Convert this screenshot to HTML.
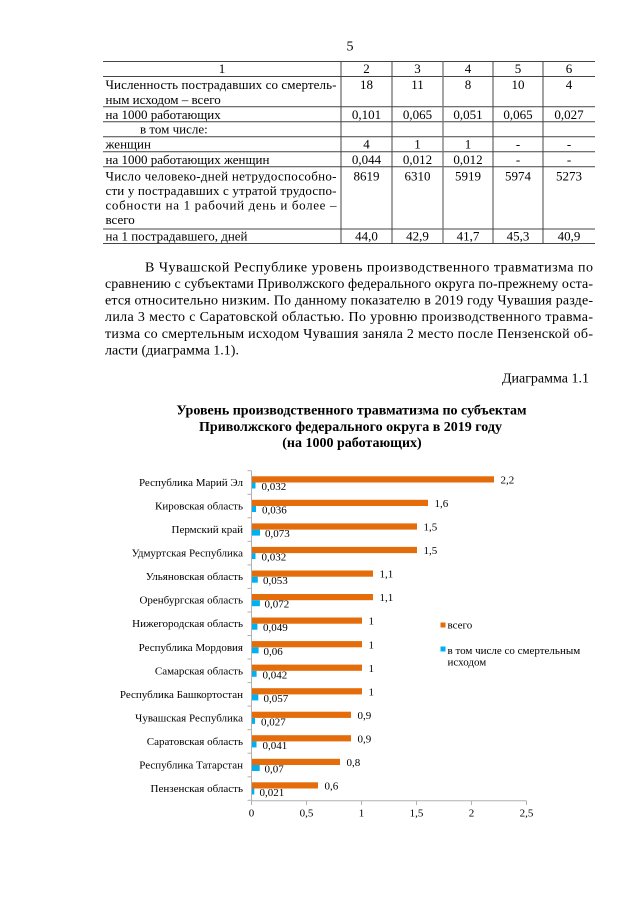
<!DOCTYPE html>
<html><head><meta charset="utf-8"><style>
html,body{margin:0;padding:0;background:#fff;}
svg{display:block;}
text{font-family:"Liberation Serif","Noto Serif CJK SC",serif;fill:#000;}
.t{font-size:13px;}
.p{font-size:14px;}
.c{font-size:11px;}
</style></head><body>
<svg width="640" height="905" viewBox="0 0 640 905" xmlns="http://www.w3.org/2000/svg">
<rect width="640" height="905" fill="#fff"/>
<text class="p" x="350" y="50.5" text-anchor="middle">5</text>

<!-- table lines -->
<g stroke="#444" stroke-width="1">
<line x1="103" y1="61.5" x2="595" y2="61.5"/>
<line x1="103" y1="76.5" x2="595" y2="76.5"/>
<line x1="103" y1="106.7" x2="595" y2="106.7"/>
<line x1="103" y1="121.7" x2="595" y2="121.7"/>
<line x1="103" y1="136.7" x2="595" y2="136.7"/>
<line x1="103" y1="151.7" x2="595" y2="151.7"/>
<line x1="103" y1="166.7" x2="595" y2="166.7"/>
<line x1="103" y1="229" x2="595" y2="229"/>
<line x1="103" y1="243.5" x2="595" y2="243.5"/>
<line x1="341" y1="61.5" x2="341" y2="243.5"/>
<line x1="392" y1="61.5" x2="392" y2="243.5"/>
<line x1="443" y1="61.5" x2="443" y2="243.5" stroke="#777" stroke-width="1.3"/>
<line x1="493" y1="61.5" x2="493" y2="243.5"/>
<line x1="543" y1="61.5" x2="543" y2="243.5"/>
</g>
<g class="t">
<text x="222" y="73" text-anchor="middle">1</text>
<text x="366.5" y="73" text-anchor="middle">2</text>
<text x="417.5" y="73" text-anchor="middle">3</text>
<text x="468" y="73" text-anchor="middle">4</text>
<text x="518" y="73" text-anchor="middle">5</text>
<text x="569" y="73" text-anchor="middle">6</text>

<text x="105.5" y="89" textLength="231" lengthAdjust="spacing">Численность пострадавших со смертель-</text>
<text x="105.5" y="104">ным исходом – всего</text>
<text x="366.5" y="89" text-anchor="middle">18</text>
<text x="417.5" y="89" text-anchor="middle">11</text>
<text x="468" y="89" text-anchor="middle">8</text>
<text x="518" y="89" text-anchor="middle">10</text>
<text x="569" y="89" text-anchor="middle">4</text>

<text x="105.5" y="119">на 1000 работающих</text>
<text x="366.5" y="119" text-anchor="middle">0,101</text>
<text x="417.5" y="119" text-anchor="middle">0,065</text>
<text x="468" y="119" text-anchor="middle">0,051</text>
<text x="518" y="119" text-anchor="middle">0,065</text>
<text x="569" y="119" text-anchor="middle">0,027</text>

<text x="140" y="133.5">в том числе:</text>

<text x="105.5" y="148.5">женщин</text>
<text x="366.5" y="148.5" text-anchor="middle">4</text>
<text x="417.5" y="148.5" text-anchor="middle">1</text>
<text x="468" y="148.5" text-anchor="middle">1</text>
<text x="518" y="148.5" text-anchor="middle">-</text>
<text x="569" y="148.5" text-anchor="middle">-</text>

<text x="105.5" y="164">на 1000 работающих женщин</text>
<text x="366.5" y="164" text-anchor="middle">0,044</text>
<text x="417.5" y="164" text-anchor="middle">0,012</text>
<text x="468" y="164" text-anchor="middle">0,012</text>
<text x="518" y="164" text-anchor="middle">-</text>
<text x="569" y="164" text-anchor="middle">-</text>

<text x="105.5" y="180.5" textLength="231" lengthAdjust="spacing">Число  человеко-дней  нетрудоспособно-</text>
<text x="105.5" y="195" textLength="231" lengthAdjust="spacing">сти у пострадавших с утратой трудоспо-</text>
<text x="105.5" y="209.5" textLength="231" lengthAdjust="spacing">собности на 1 рабочий день и более –</text>
<text x="105.5" y="224">всего</text>
<text x="366.5" y="180.5" text-anchor="middle">8619</text>
<text x="417.5" y="180.5" text-anchor="middle">6310</text>
<text x="468" y="180.5" text-anchor="middle">5919</text>
<text x="518" y="180.5" text-anchor="middle">5974</text>
<text x="569" y="180.5" text-anchor="middle">5273</text>

<text x="105.5" y="240.5">на 1 пострадавшего, дней</text>
<text x="366.5" y="240.5" text-anchor="middle">44,0</text>
<text x="417.5" y="240.5" text-anchor="middle">42,9</text>
<text x="468" y="240.5" text-anchor="middle">41,7</text>
<text x="518" y="240.5" text-anchor="middle">45,3</text>
<text x="569" y="240.5" text-anchor="middle">40,9</text>
</g>

<!-- paragraph -->
<g class="p">
<text x="145" y="271.5" textLength="448" lengthAdjust="spacing">В Чувашской Республике уровень производственного травматизма по</text>
<text x="105" y="288" textLength="488" lengthAdjust="spacing">сравнению с субъектами Приволжского федерального округа по-прежнему оста-</text>
<text x="105" y="304.5" textLength="488" lengthAdjust="spacing">ется относительно низким. По данному показателю в 2019 году Чувашия разде-</text>
<text x="105" y="321" textLength="488" lengthAdjust="spacing">лила 3 место с Саратовской областью. По уровню производственного травма-</text>
<text x="105" y="338" textLength="488" lengthAdjust="spacing">тизма со смертельным исходом Чувашия заняла 2 место после Пензенской об-</text>
<text x="105" y="354.5">ласти (диаграмма 1.1).</text>
<text x="589" y="382.5" text-anchor="end">Диаграмма 1.1</text>
</g>

<!-- chart title -->
<g style="font-size:14px;font-weight:bold;">
<text x="351.5" y="414.5" text-anchor="middle">Уровень производственного травматизма по субъектам</text>
<text x="350.5" y="431" text-anchor="middle">Приволжского федерального округа в 2019 году</text>
<text x="352" y="447" text-anchor="middle">(на 1000 работающих)</text>
</g>

<!-- axes -->
<g stroke="#B0B0B0" stroke-width="1">
<line x1="251.5" y1="470.7" x2="251.5" y2="800.7"/>
<line x1="251.5" y1="800.7" x2="526.5" y2="800.7"/>
<line x1="251.5" y1="800.7" x2="251.5" y2="805"/>
<line x1="306.5" y1="800.7" x2="306.5" y2="805"/>
<line x1="361.5" y1="800.7" x2="361.5" y2="805"/>
<line x1="416.5" y1="800.7" x2="416.5" y2="805"/>
<line x1="471.5" y1="800.7" x2="471.5" y2="805"/>
<line x1="526.5" y1="800.7" x2="526.5" y2="805"/>
<line x1="247.5" y1="470.7" x2="251.5" y2="470.7"/>
<line x1="247.5" y1="494.3" x2="251.5" y2="494.3"/>
<line x1="247.5" y1="517.8" x2="251.5" y2="517.8"/>
<line x1="247.5" y1="541.3" x2="251.5" y2="541.3"/>
<line x1="247.5" y1="564.9" x2="251.5" y2="564.9"/>
<line x1="247.5" y1="588.4" x2="251.5" y2="588.4"/>
<line x1="247.5" y1="612" x2="251.5" y2="612"/>
<line x1="247.5" y1="635.5" x2="251.5" y2="635.5"/>
<line x1="247.5" y1="659" x2="251.5" y2="659"/>
<line x1="247.5" y1="682.6" x2="251.5" y2="682.6"/>
<line x1="247.5" y1="706.1" x2="251.5" y2="706.1"/>
<line x1="247.5" y1="729.7" x2="251.5" y2="729.7"/>
<line x1="247.5" y1="753.2" x2="251.5" y2="753.2"/>
<line x1="247.5" y1="776.8" x2="251.5" y2="776.8"/>
<line x1="247.5" y1="800.3" x2="251.5" y2="800.3"/>
</g>
<g class="c">
<text x="251.5" y="816.5" text-anchor="middle">0</text>
<text x="306.5" y="816.5" text-anchor="middle">0,5</text>
<text x="361.5" y="816.5" text-anchor="middle">1</text>
<text x="416.5" y="816.5" text-anchor="middle">1,5</text>
<text x="471.5" y="816.5" text-anchor="middle">2</text>
<text x="526.5" y="816.5" text-anchor="middle">2,5</text>
</g>

<!-- bars -->
<g fill="#E46C0A">
<rect x="252" y="476.3" width="242" height="6.2"/>
<rect x="252" y="499.8" width="176" height="6.2"/>
<rect x="252" y="523.4" width="165" height="6.2"/>
<rect x="252" y="546.9" width="165" height="6.2"/>
<rect x="252" y="570.5" width="121" height="6.2"/>
<rect x="252" y="594" width="121" height="6.2"/>
<rect x="252" y="617.5" width="110" height="6.2"/>
<rect x="252" y="641.1" width="110" height="6.2"/>
<rect x="252" y="664.6" width="110" height="6.2"/>
<rect x="252" y="688.2" width="110" height="6.2"/>
<rect x="252" y="711.7" width="99" height="6.2"/>
<rect x="252" y="735.2" width="99" height="6.2"/>
<rect x="252" y="758.8" width="88" height="6.2"/>
<rect x="252" y="782.3" width="66" height="6.2"/>
</g>
<g fill="#00B0F0">
<rect x="252" y="482.5" width="3.5" height="6"/>
<rect x="252" y="506" width="4" height="6"/>
<rect x="252" y="529.6" width="8" height="6"/>
<rect x="252" y="553.1" width="3.5" height="6"/>
<rect x="252" y="576.7" width="5.8" height="6"/>
<rect x="252" y="600.2" width="7.9" height="6"/>
<rect x="252" y="623.7" width="5.4" height="6"/>
<rect x="252" y="647.3" width="6.6" height="6"/>
<rect x="252" y="670.8" width="4.6" height="6"/>
<rect x="252" y="694.4" width="6.3" height="6"/>
<rect x="252" y="717.9" width="3" height="6"/>
<rect x="252" y="741.4" width="4.5" height="6"/>
<rect x="252" y="765" width="7.7" height="6"/>
<rect x="252" y="788.5" width="2.3" height="6"/>
</g>

<!-- category labels -->
<g class="c" text-anchor="end">
<text x="243" y="486">Республика Марий Эл</text>
<text x="243" y="509.5">Кировская область</text>
<text x="243" y="533">Пермский край</text>
<text x="243" y="556.6">Удмуртская Республика</text>
<text x="243" y="580.2">Ульяновская область</text>
<text x="243" y="603.7">Оренбургская область</text>
<text x="243" y="627.2">Нижегородская область</text>
<text x="243" y="650.8">Республика Мордовия</text>
<text x="243" y="674.3">Самарская область</text>
<text x="243" y="697.9">Республика Башкортостан</text>
<text x="243" y="721.4">Чувашская Республика</text>
<text x="243" y="744.9">Саратовская область</text>
<text x="243" y="768.5">Республика Татарстан</text>
<text x="243" y="792">Пензенская область</text>
</g>

<!-- value labels orange -->
<g class="c">
<text x="500.5" y="483.5">2,2</text>
<text x="434.5" y="507">1,6</text>
<text x="423.5" y="530.6">1,5</text>
<text x="423.5" y="554.1">1,5</text>
<text x="379.5" y="577.7">1,1</text>
<text x="379.5" y="601.2">1,1</text>
<text x="368.5" y="624.7">1</text>
<text x="368.5" y="648.3">1</text>
<text x="368.5" y="671.8">1</text>
<text x="368.5" y="695.4">1</text>
<text x="357.5" y="718.9">0,9</text>
<text x="357.5" y="742.4">0,9</text>
<text x="346.5" y="766">0,8</text>
<text x="324.5" y="789.5">0,6</text>
</g>
<!-- value labels blue -->
<g class="c">
<text x="261.5" y="490">0,032</text>
<text x="262" y="513.5">0,036</text>
<text x="265" y="537">0,073</text>
<text x="261.5" y="560.6">0,032</text>
<text x="263" y="584.2">0,053</text>
<text x="264.5" y="607.7">0,072</text>
<text x="263" y="631.2">0,049</text>
<text x="263.5" y="654.8">0,06</text>
<text x="262.5" y="678.3">0,042</text>
<text x="263.5" y="701.9">0,057</text>
<text x="261" y="725.4">0,027</text>
<text x="262.5" y="748.9">0,041</text>
<text x="264.5" y="772.5">0,07</text>
<text x="259.5" y="796">0,021</text>
</g>

<!-- legend -->
<rect x="440.5" y="622.5" width="5" height="5" fill="#E46C0A"/>
<rect x="440.5" y="646.5" width="5" height="5" fill="#00B0F0"/>
<g class="c">
<text x="447.5" y="628.5">всего</text>
<text x="447.5" y="654">в том числе со смертельным</text>
<text x="447.5" y="665.5">исходом</text>
</g>
</svg>
</body></html>
